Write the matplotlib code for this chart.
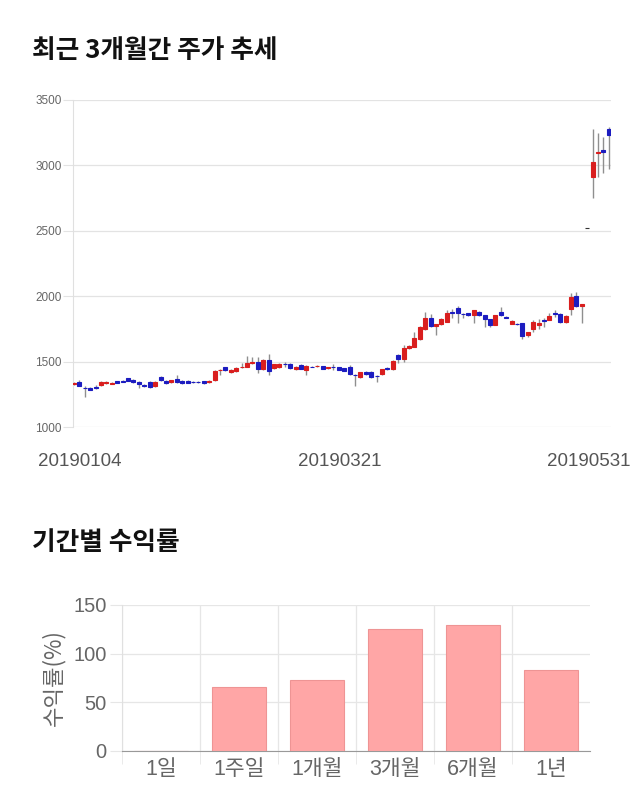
import numpy as np
import matplotlib
matplotlib.use('Agg')
import matplotlib.pyplot as plt
from matplotlib.transforms import ScaledTranslation

plt.rcParams['font.family'] = ['Noto Sans CJK KR', 'DejaVu Sans']

# daily candles 20190104 ~ 20190531 (open, high, low, close)
opens = [1326, 1342, 1298, 1301, 1308, 1318, 1338, 1332, 1348, 1352,
         1372, 1362, 1342, 1322, 1345, 1310, 1380, 1352, 1345, 1365,
         1352, 1352, 1343, 1347, 1350, 1345, 1360, 1432, 1456, 1418,
         1425, 1458, 1462, 1490, 1494, 1442, 1512, 1450, 1458, 1484,
         1482, 1442, 1474, 1438, 1462, 1468, 1466, 1448, 1462, 1456,
         1449, 1456, 1400, 1380, 1418, 1423, 1392, 1405, 1449, 1441,
         1551, 1517, 1601, 1614, 1670, 1747, 1831, 1772, 1785, 1805,
         1882, 1912, 1866, 1869, 1856, 1882, 1856, 1823, 1780, 1882,
         1840, 1790, 1790, 1795, 1703, 1747, 1780, 1816, 1818, 1874,
         1864, 1800, 1900, 2002, 1925, 2520, 2914, 3092, 3118, 3276]
highs = [1345, 1359, 1314, 1306, 1318, 1355, 1348, 1345, 1352, 1358,
         1378, 1368, 1348, 1328, 1350, 1350, 1388, 1358, 1362, 1400,
         1358, 1356, 1348, 1350, 1355, 1356, 1435, 1445, 1462, 1440,
         1455, 1487, 1543, 1538, 1533, 1520, 1558, 1485, 1486, 1500,
         1486, 1465, 1478, 1474, 1466, 1472, 1470, 1460, 1482, 1460,
         1452, 1474, 1405, 1422, 1425, 1428, 1395, 1445, 1455, 1510,
         1556, 1627, 1625, 1729, 1770, 1877, 1864, 1790, 1830, 1895,
         1900, 1925, 1870, 1872, 1898, 1886, 1860, 1828, 1860, 1920,
         1845, 1818, 1795, 1798, 1728, 1818, 1823, 1831, 1869, 1895,
         1868, 1853, 2027, 2035, 1942, 2520, 3276, 3245, 3220, 3296]
lows = [1320, 1312, 1232, 1280, 1290, 1312, 1328, 1325, 1335, 1342,
        1350, 1338, 1300, 1305, 1300, 1305, 1355, 1330, 1340, 1340,
        1330, 1335, 1336, 1340, 1330, 1340, 1355, 1398, 1428, 1412,
        1420, 1450, 1458, 1485, 1410, 1435, 1398, 1445, 1454, 1461,
        1445, 1438, 1440, 1400, 1455, 1462, 1440, 1444, 1435, 1432,
        1425, 1398, 1316, 1376, 1400, 1376, 1347, 1400, 1438, 1436,
        1487, 1500, 1598, 1610, 1665, 1740, 1768, 1703, 1780, 1800,
        1831, 1793, 1831, 1850, 1793, 1850, 1762, 1762, 1776, 1852,
        1832, 1786, 1782, 1672, 1690, 1729, 1747, 1767, 1815, 1844,
        1795, 1796, 1856, 1920, 1793, 2520, 2748, 2914, 2939, 2970]
closes = [1339, 1316, 1296, 1283, 1300, 1345, 1341, 1340, 1340, 1346,
          1353, 1342, 1325, 1310, 1308, 1345, 1360, 1335, 1358, 1347,
          1335, 1340, 1341, 1344, 1335, 1352, 1430, 1437, 1432, 1434,
          1450, 1462, 1487, 1495, 1442, 1512, 1425, 1480, 1482, 1481,
          1450, 1461, 1445, 1470, 1460, 1469, 1443, 1456, 1460, 1436,
          1428, 1405, 1396, 1418, 1405, 1380, 1388, 1441, 1442, 1507,
          1517, 1601, 1619, 1678, 1765, 1831, 1772, 1785, 1826, 1869,
          1869, 1869, 1862, 1856, 1894, 1856, 1826, 1780, 1856, 1856,
          1836, 1813, 1788, 1698, 1724, 1800, 1798, 1812, 1849, 1861,
          1800, 1849, 1996, 1925, 1938, 2520, 3029, 3105, 3105, 3232]
date_ticks = [0, 50, 99]
date_labels = ['20190104', '20190321', '20190531']

# period returns (%)
periods = ['1일', '1주일', '1개월', '3개월', '6개월', '1년']
returns = [0, 65.8, 73.2, 125.5, 129.8, 83.5]

fig = plt.figure(figsize=(6.4, 8.1), dpi=100)
fig.patch.set_facecolor('white')

fig.text(0.05, 1 - 51 / 810, '최근 3개월간 주가 추세', fontsize=18.5, fontweight='bold',
         color='#111111', va='center', ha='left')
fig.text(0.05, 1 - 543 / 810, '기간별 수익률', fontsize=18.5, fontweight='bold',
         color='#111111', va='center', ha='left')

# ---- candle chart ----
ax = fig.add_axes([73 / 640, 1 - 427 / 810, (611 - 73) / 640, (427 - 100) / 810])
o = np.array(opens)
h = np.array(highs)
l = np.array(lows)
c = np.array(closes)
idx = np.arange(len(o))
colors = np.where(c > o, '#d91e1e', np.where(c < o, '#1c1cc0', '#333333'))
ax.vlines(idx, l, h, color='#8f8f8f', linewidth=1.0, zorder=2)
ax.bar(idx, np.abs(c - o), bottom=np.minimum(o, c), width=0.74, color=colors,
       edgecolor=colors, linewidth=0.8, zorder=3)
ax.set_xlim(-0.2, 99.4)
ax.set_ylim(1000, 3500)
ax.set_yticks(np.arange(1000, 3501, 500))
ax.yaxis.grid(True, color='#e3e3e3', linewidth=0.9)
ax.set_axisbelow(True)
for s in ['top', 'right', 'bottom']:
    ax.spines[s].set_visible(False)
ax.spines['left'].set_color('#e0e0e0')
ax.tick_params(axis='y', length=7, color='#e3e3e3', labelsize=8.5, labelcolor='#666666', pad=1)
for t in ax.get_yticklabels():
    t.set_family(['Liberation Sans'])
ax.set_xticks(date_ticks)
ax.set_xticklabels(date_labels, fontsize=13.5, color='#555555', family=['Liberation Sans'])
ax.tick_params(axis='x', length=0, pad=19)
for t, dx in zip(ax.get_xticklabels(), [6, -4, -20]):
    t.set_transform(t.get_transform() + ScaledTranslation(dx / 100, 0, fig.dpi_scale_trans))

# ---- returns bar chart ----
bx = fig.add_axes([122 / 640, 1 - 751 / 810, (590 - 122) / 640, (751 - 605) / 810])
pos = np.arange(len(periods))
bx.bar(pos, returns, width=0.69, color='#ffa6a6', edgecolor='#ee9494', linewidth=0.8, zorder=3)
bx.set_xlim(-0.5, len(periods) - 0.5)
bx.set_ylim(0, 150)
bx.set_yticks([0, 50, 100, 150])
bx.set_xticks(pos)
bx.set_xticklabels(periods)
bx.set_xticks(np.arange(-0.5, len(periods) - 0.5), minor=True)
bx.yaxis.grid(True, color='#e6e6e6', linewidth=0.9)
bx.xaxis.grid(True, which='minor', color='#e6e6e6', linewidth=0.9)
bx.set_axisbelow(True)
for s in ['top', 'right']:
    bx.spines[s].set_visible(False)
bx.spines['left'].set_color('#e0e0e0')
bx.spines['bottom'].set_color('#999999')
bx.tick_params(axis='y', length=9, color='#e6e6e6', labelsize=14.5, labelcolor='#666666', pad=2)
bx.tick_params(axis='x', which='major', length=0, labelsize=15.5, labelcolor='#666666', pad=6)
bx.tick_params(axis='x', which='minor', length=9, color='#e6e6e6')
for t in bx.get_yticklabels() + bx.get_xticklabels():
    t.set_family(['Liberation Sans', 'Noto Sans CJK KR'])
bx.set_ylabel('수익률(%)', fontsize=16, color='#666666', labelpad=6)

fig.savefig('out.png', dpi=100, facecolor='white')
